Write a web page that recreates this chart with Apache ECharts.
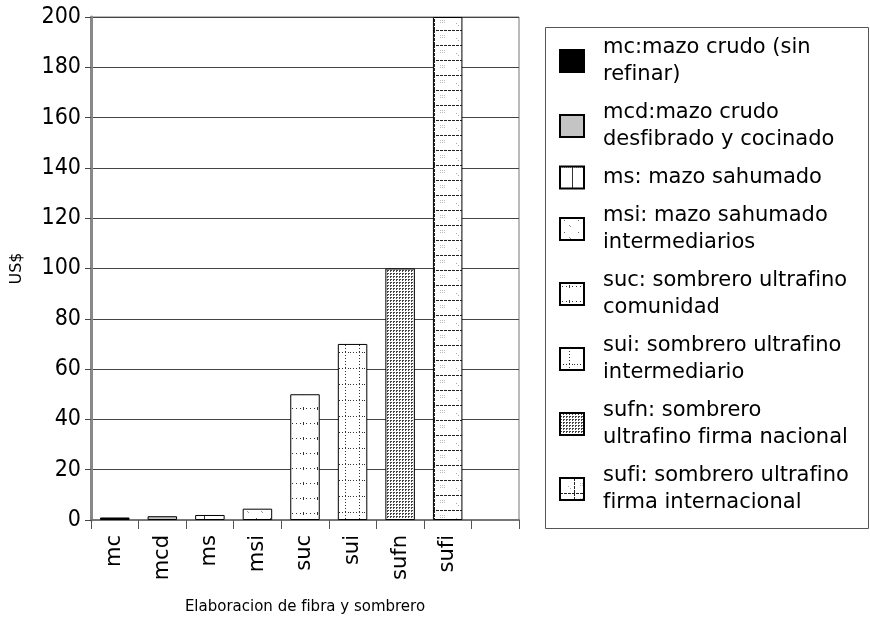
<!DOCTYPE html>
<html lang="es">
<head>
  <meta charset="utf-8">
  <title>Precios mazo y sombrero</title>
  <style>
    * { margin: 0; padding: 0; }
    #chart-container { position: relative; width: 870px; height: 620px; overflow: hidden; background: #fff; }
  </style>
</head>
<body>
  <div id="chart-container"></div>
  <script src="https://cdn.jsdelivr.net/npm/echarts@6/dist/echarts.min.js"></script>
  <script>
    var dom = document.getElementById('chart-container');
    var myChart = echarts.init(dom, null, { renderer: 'canvas' });

    // data
    var categories = ['mc', 'mcd', 'ms', 'msi', 'suc', 'sui', 'sufn', 'sufi', ''];
    var values = [1, 1.5, 2, 4.5, 50, 70, 100, 200];
    var legendLabels = [
      'mc:mazo crudo (sin\nrefinar)',
      'mcd:mazo crudo\ndesfibrado y cocinado',
      'ms: mazo sahumado',
      'msi: mazo sahumado\nintermediarios',
      'suc: sombrero ultrafino\ncomunidad',
      'sui: sombrero ultrafino\nintermediario',
      'sufn: sombrero\nultrafino firma nacional',
      'sufi: sombrero ultrafino\nfirma internacional'
    ];
    var yTicks = { min: 0, max: 200, interval: 20 };

    var SANS = '"DejaVu Sans", sans-serif';
    var COND = '"DejaVu Sans Condensed", "DejaVu Sans", sans-serif';

    // fill patterns drawn on small canvases
    function tile(w, h, draw) {
      var c = document.createElement('canvas');
      c.width = w; c.height = h;
      var ctx = c.getContext('2d');
      ctx.fillStyle = '#fff';
      ctx.fillRect(0, 0, w, h);
      draw(ctx);
      return { image: c, repeat: 'repeat' };
    }
    function dot(ctx, x, y, col) {
      ctx.fillStyle = col || '#333';
      ctx.fillRect(x, y, 1, 1);
    }

    var fills = [
      '#000',
      '#c4c4c4',
      tile(24, 24, function (ctx) {
        for (var x = 0; x < 24; x += 2) dot(ctx, x, 0);
        ctx.fillStyle = '#333'; ctx.fillRect(12, 0, 1, 24);
      }),
      tile(14, 12, function (ctx) {
        dot(ctx, 4, 2, '#666'); dot(ctx, 9, 7, '#999'); dot(ctx, 10, 8, '#999');
      }),
      tile(14, 15, function (ctx) {
        dot(ctx, 2, 3); dot(ctx, 6, 3); dot(ctx, 12, 3);
        ctx.fillStyle = '#333'; ctx.fillRect(9, 2, 1, 3);
      }),
      tile(14, 16, function (ctx) {
        for (var x = 0; x < 14; x += 3) dot(ctx, x, 0);
        for (var y = 0; y < 16; y += 3) dot(ctx, 9, y);
      }),
      tile(3, 3, function (ctx) {
        ctx.fillStyle = '#444'; ctx.fillRect(0, 0, 2, 1); ctx.fillRect(0, 1, 1, 1);
      }),
      tile(28, 15, function (ctx) {
        ctx.fillStyle = '#222';
        for (var x = 0; x < 28; x += 4) ctx.fillRect(x, 0, 3, 1);
        for (var y = 0; y < 15; y += 4) ctx.fillRect(14, y, 1, 3);
        ctx.fillStyle = '#bbb';
        for (var i = 0; i < 6; i++) { ctx.fillRect(20 + (i % 3) * 2, 5 + Math.floor(i / 3) * 2, 1, 1); }
        dot(ctx, 8, 8, '#aaa'); dot(ctx, 10, 10, '#aaa');
      })
    ];

    var series = values.map(function (v, i) {
      var data = categories.map(function (c, j) { return j === i ? v : '-'; });
      return {
        name: legendLabels[i],
        type: 'bar',
        stack: 'all',
        barWidth: '62%',
        data: data,
        itemStyle: { color: fills[i], borderColor: '#000', borderWidth: 1 }
      };
    });

    var option = {
      backgroundColor: '#fff',
      animation: false,
      textStyle: { fontFamily: SANS },
      grid: {
        left: 91, right: 351, top: 17, bottom: 97,
        show: true, borderColor: '#777', borderWidth: 1, backgroundColor: '#fff'
      },
      graphic: [{
        type: 'rect',
        left: 543, top: 25,
        shape: { width: 323, height: 501 },
        style: { fill: 'none', stroke: '#555', lineWidth: 1 },
        z: -1
      }],
      legend: {
        orient: 'vertical',
        left: 554, top: 29,
        icon: 'rect',
        itemWidth: 24, itemHeight: 22,
        itemGap: 11,
        selectedMode: false,
        textStyle: { fontFamily: SANS, fontSize: 21, color: '#000', lineHeight: 27, padding: [0, 0, 0, 14] }
      },
      xAxis: {
        type: 'category',
        data: categories,
        name: 'Elaboracion de fibra y sombrero',
        nameLocation: 'middle',
        nameGap: 80,
        nameTextStyle: { fontFamily: SANS, fontSize: 15, color: '#000' },
        axisLine: { lineStyle: { color: '#777', width: 2 } },
        axisTick: { show: true, length: 9, lineStyle: { color: '#555' } },
        axisLabel: { rotate: 90, fontFamily: SANS, fontSize: 21, color: '#000', margin: 15 }
      },
      yAxis: {
        type: 'value',
        min: yTicks.min, max: yTicks.max, interval: yTicks.interval,
        name: 'US$',
        nameLocation: 'middle',
        nameGap: 66,
        nameTextStyle: { fontFamily: SANS, fontSize: 16, color: '#000' },
        axisLine: { show: true, lineStyle: { color: '#888', width: 3 } },
        axisTick: { show: true, length: 6, lineStyle: { color: '#444' } },
        axisLabel: { fontFamily: COND, fontSize: 23, color: '#000', margin: 10 },
        splitLine: { lineStyle: { color: '#444', width: 1 } }
      },
      series: series
    };

    myChart.setOption(option);
    window.addEventListener('resize', myChart.resize);
  </script>
</body>
</html>
